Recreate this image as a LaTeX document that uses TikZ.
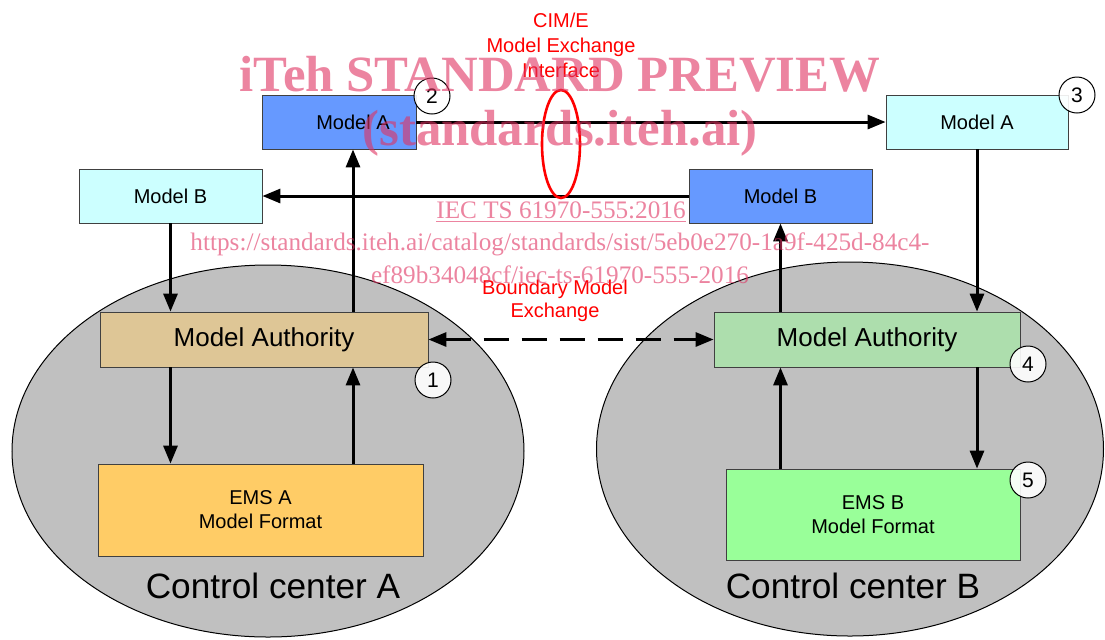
\documentclass[tikz,border=0pt]{standalone}
\usepackage{fontspec}
\setmainfont{Liberation Sans}
\newfontfamily\wmfont{Liberation Serif}
\usetikzlibrary{arrows.meta,positioning,calc,shapes.geometric}

\definecolor{blueA}{HTML}{6699FF}
\definecolor{cyanA}{HTML}{CCFFFF}
\definecolor{tanA}{HTML}{DEC696}
\definecolor{greenA}{HTML}{ADDEAD}
\definecolor{emsAc}{HTML}{FFCC66}
\definecolor{emsBc}{HTML}{99FF99}
\definecolor{ccgray}{HTML}{C0C0C0}
\definecolor{wmpink}{RGB}{223,50,97}

\begin{document}
\begin{tikzpicture}[x=0.5pt,y=-0.5pt,>={Triangle[length=9pt,width=7pt]},
  box/.style={draw=black!75,line width=0.4pt,inner sep=0pt,font=\fontsize{10}{12}\selectfont},
  authbox/.style={box,minimum height=27.5pt,font=\fontsize{13}{15}\selectfont},
  flow/.style={->,line width=1.5pt},
  num/.style={circle,draw,line width=0.5pt,fill=white,fill opacity=0.9,text opacity=1,
    minimum size=18pt,inner sep=0pt,font=\fontsize{10.5}{12}\selectfont},
  ccarea/.style={ellipse,draw,line width=0.5pt,fill=ccgray,inner sep=0pt},
  ccname/.style={font=\fontsize{17.6}{20}\selectfont},
  redtxt/.style={text=red,align=center},
  wmark/.style={text=wmpink,text opacity=0.6,align=center}]

  \useasboundingbox (0,0) rectangle (1105,639);

  % control centres
  \node[ccarea,minimum width=256pt,minimum height=186pt] (ccA) at (268,451) {};
  \node[ccarea,minimum width=253.5pt,minimum height=187pt] (ccB) at (850,449) {};

  % models
  \node[box,fill=blueA,minimum width=77pt,minimum height=27pt] (mdlA) at (339,122) {\hspace*{14pt}Model A};
  \node[box,fill=cyanA,minimum width=91pt,minimum height=27pt] (mdlAx) at (977,122) {Model A};
  \node[box,fill=cyanA,minimum width=91.5pt,minimum height=27pt] (mdlB) at (170.5,196) {Model B};
  \node[box,fill=blueA,minimum width=91.5pt,minimum height=27pt] (mdlBx) at (780.5,196) {Model B};

  \node[authbox,fill=tanA,minimum width=164pt] (authA) at (264,339.5) {Model Authority};
  \node[authbox,fill=greenA,minimum width=153pt] (authB) at (867,339.5) {Model Authority};

  \node[box,fill=emsAc,minimum width=162.5pt,minimum height=46pt,align=center] (emsA) at (260.5,510) {EMS A\\Model Format};
  \node[box,fill=emsBc,minimum width=147pt,minimum height=45.5pt,align=center] (emsB) at (873,514.5) {EMS B\\Model Format};

  \node[ccname] (lblA) at (273,586) {Control center A};
  \node[ccname] (lblB) at (853,586) {Control center B};

  % exchanges
  \coordinate (upA) at (353,0);
  \draw[flow] (mdlA.east) -- (mdlAx.west);
  \draw[flow] (mdlBx.west) -- (mdlB.east);
  \draw[flow] (mdlB.south) -- (authA.north -| mdlB.south);
  \draw[flow] (authA.south -| mdlB.south) -- (emsA.north -| mdlB.south);
  \draw[flow] (emsA.north -| upA) -- (authA.south -| upA);
  \draw[flow] (authA.north -| upA) -- (mdlA.south -| upA);
  \draw[flow] (mdlAx.south) -- (authB.north -| mdlAx.south);
  \draw[flow] (authB.south -| mdlAx.south) -- (emsB.north -| mdlAx.south);
  \draw[flow] (emsB.north -| mdlBx.south) -- (authB.south -| mdlBx.south);
  \draw[flow] (authB.north -| mdlBx.south) -- (mdlBx.south);
  \draw[flow,<->,dash pattern=on 12.5pt off 6.5pt] (authA.east) -- (authB.west);

  % numbers
  \node[num] (n1) at (433,380) {1};
  \node[num] (n2) at (432,96) {2};
  \node[num] (n3) at (1077,95) {3};
  \node[num] (n4) at (1028,364) {4};
  \node[num] (n5) at (1028,480) {5};

  % interface
  \node[ellipse,draw=red,line width=1.3pt,minimum width=19pt,minimum height=54pt,inner sep=0pt] (cime) at (561,144) {};
  \node[redtxt,font=\fontsize{10}{12.5}\selectfont] (cimlbl) at (561,45) {CIM/E\\Model Exchange\\Interface};
  \node[redtxt,font=\fontsize{10}{11.5}\selectfont] (bndlbl) at (555,301) {Boundary Model\\Exchange};

  % preview stamp
  \node[wmark,font=\wmfont\bfseries\fontsize{25.4}{30}\selectfont] (wm1) at (560,74) {iTeh STANDARD PREVIEW};
  \node[wmark,font=\wmfont\bfseries\fontsize{25.4}{30}\selectfont] (wm2) at (560,133) {(standards.iteh.ai)};
  \node[wmark,font=\wmfont\fontsize{12.6}{15}\selectfont] (wm3) at (561,212) {\underline{IEC TS 61970-555:2016}};
  \node[wmark,font=\wmfont\fontsize{12.6}{15}\selectfont] (wm4) at (560,244) {https://standards.iteh.ai/catalog/standards/sist/5eb0e270-1a9f-425d-84c4-};
  \node[wmark,font=\wmfont\fontsize{12.6}{15}\selectfont] (wm5) at (560,275) {ef89b34048cf/iec-ts-61970-555-2016};
\end{tikzpicture}
\end{document}
